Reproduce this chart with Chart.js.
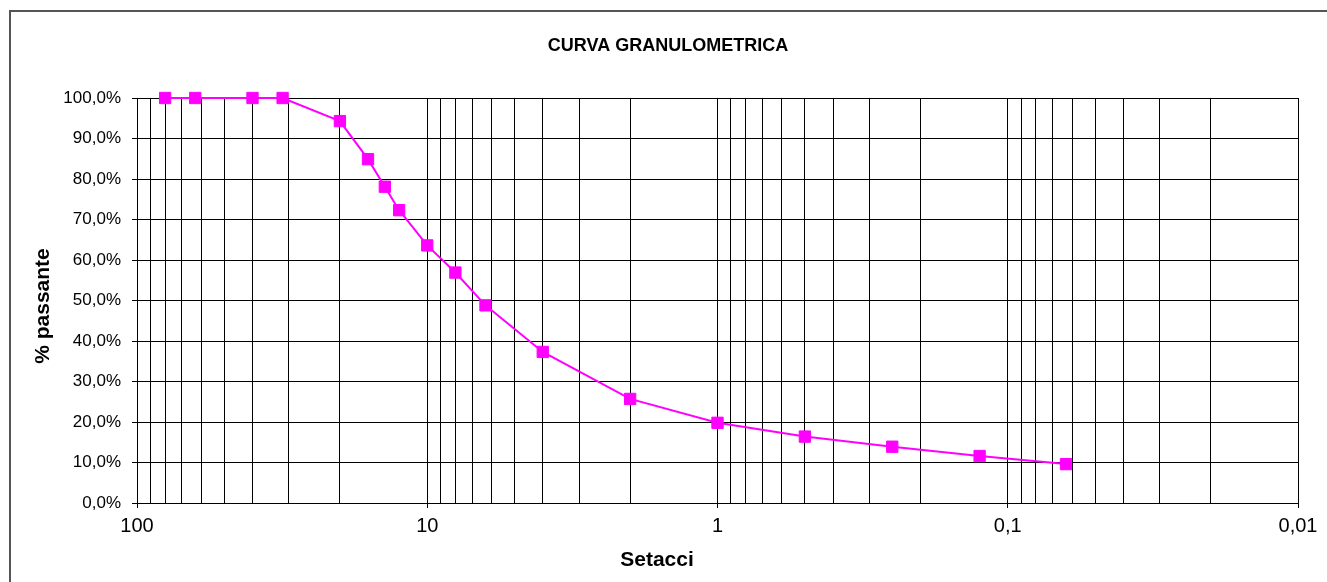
<!DOCTYPE html>
<html>
<head>
<meta charset="utf-8">
<script src="https://cdn.jsdelivr.net/npm/chart.js@4/dist/chart.umd.min.js"></script>
<style>
  html, body { margin: 0; padding: 0; background: #fff; }
  canvas { display: block; }
</style>
</head>
<body>
<canvas id="granChart" width="1327" height="582"></canvas>
<script>
// sieve openings (mm) and % passing
const sieveSizes = [80, 63, 40, 31.5, 20, 16, 14, 12.5, 10, 8, 6.3, 4, 2, 1, 0.5, 0.25, 0.125, 0.063];
const passing = [100, 100, 100, 100, 94.3, 84.9, 78.1, 72.3, 63.6, 56.9, 48.8, 37.3, 25.7, 19.8, 16.4, 13.9, 11.6, 9.6];

const xMajorTicks = [100, 10, 1, 0.1, 0.01];
const xTickLabels = ["100", "10", "1", "0,1", "0,01"];
const gridSteps = [1, 2, 3, 4, 5, 6, 7, 8, 9];

const chartTitle = "CURVA GRANULOMETRICA";
const xTitle = "Setacci";
const yTitle = "% passante";

const FONT = "'Liberation Sans', Arial, sans-serif";

document.addEventListener("DOMContentLoaded", () => {
  const ctx = document.getElementById("granChart").getContext("2d");

  // log grid: 1..9 in every decade between 0.01 and 100
  const gridValues = [];
  [0.01, 0.1, 1, 10].forEach((decade) => {
    gridSteps.forEach((s) => gridValues.push(+(s * decade).toPrecision(3)));
  });
  gridValues.push(100);

  const isMajor = (v) => xMajorTicks.some((m) => Math.abs(m - v) < m * 1e-6);

  const textPlugin = {
    id: "textPlugin",
    beforeDraw: (chart) => {
      const c = chart.ctx;
      c.save();
      c.fillStyle = "#fff";
      c.fillRect(0, 0, chart.width, chart.height);
      c.strokeStyle = "#555";
      c.lineWidth = 2;
      c.strokeRect(10, 11, chart.width + 20, chart.height + 20);
      c.restore();
    },
    afterDraw: (chart) => {
      const c = chart.ctx;
      c.save();
      c.fillStyle = "#000";
      c.textAlign = "center";
      c.textBaseline = "alphabetic";
      c.font = "bold 18px " + FONT;
      c.fillText(chartTitle, 668, 51);
      c.font = "bold 21px " + FONT;
      c.fillText(xTitle, 657, 566);
      c.translate(49, 306);
      c.rotate(-Math.PI / 2);
      c.fillText(yTitle, 0, 0);
      c.restore();
    },
  };

  new Chart(ctx, {
    type: "scatter",
    data: {
      datasets: [
        {
          data: sieveSizes.map((s, i) => ({ x: s, y: passing[i] })),
          showLine: true,
          borderColor: "#ff00ff",
          backgroundColor: "#ff00ff",
          borderWidth: 2,
          pointStyle: "rect",
          pointRadius: 8,
          pointBorderWidth: 1,
          pointHoverRadius: 8,
          tension: 0,
          clip: false,
        },
      ],
    },
    options: {
      responsive: false,
      animation: false,
      events: [],
      layout: { padding: { left: 0, top: 98, right: 29, bottom: 0 } },
      plugins: {
        legend: { display: false },
        tooltip: { enabled: false },
        title: { display: false },
      },
      scales: {
        x: {
          type: "logarithmic",
          reverse: true,
          min: 0.01,
          max: 100,
          afterBuildTicks: (scale) => {
            scale.ticks = gridValues.map((v) => ({ value: v, major: false }));
          },
          afterFit: (scale) => {
            scale.height = 79;
          },
          grid: {
            color: "#000",
            lineWidth: 1,
            tickLength: 5,
            tickColor: (c) => (c.tick && isMajor(c.tick.value) ? "#000" : "rgba(0,0,0,0)"),
          },
          border: { color: "#000", width: 1 },
          ticks: {
            autoSkip: false,
            maxRotation: 0,
            padding: 6,
            color: "#000",
            font: { family: FONT, size: 20 },
            callback: (value) => {
              const idx = xMajorTicks.findIndex((m) => Math.abs(m - value) < m * 1e-6);
              return idx >= 0 ? xTickLabels[idx] : "";
            },
          },
        },
        y: {
          type: "linear",
          min: 0,
          max: 100,
          afterFit: (scale) => {
            scale.width = 137;
          },
          grid: {
            color: "#000",
            lineWidth: 1,
            tickLength: 5,
            tickColor: "#000",
          },
          border: { color: "#000", width: 1 },
          ticks: {
            stepSize: 10,
            padding: 11,
            color: "#000",
            font: { family: FONT, size: 17 },
            callback: (value) => value.toFixed(1).replace(".", ",") + "%",
          },
        },
      },
    },
    plugins: [textPlugin],
  });
});
</script>
</body>
</html>
